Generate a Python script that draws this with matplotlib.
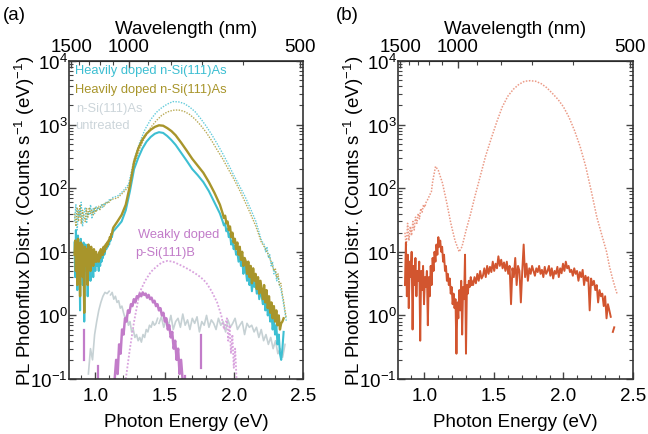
import numpy as np
import matplotlib
matplotlib.use('Agg')
import matplotlib.pyplot as plt
from matplotlib.ticker import LogLocator, MultipleLocator, FixedLocator, NullFormatter

plt.rcParams['font.family'] = ['Liberation Sans', 'DejaVu Sans']
plt.rcParams['mathtext.fontset'] = 'custom'
plt.rcParams['mathtext.rm'] = 'Liberation Sans'
plt.rcParams['mathtext.it'] = 'Liberation Sans:italic'

nan = np.nan
FS = 13.5

# ---------------- panel (a) ----------------
# heavily doped n-Si(111)As, solid (cyan) and dotted (cyan)
cyan_lo = [14, 4, 22, 9, 2.5, 18, 7, 12, 1.2, 16, 6, 11, 3, 14, 0.8, 9, 13, 5, 10, 2, 12, 7, 9, 3.5,
           11, 6, 8, 4, 10, 7, 5, 9, 6, 8, 7, 5, 9, 6, 10, 7, 9, 8, 11, 9, 10, 12, 11, 13, 12, 14,
           13, 16, 15, 18, 17, 20, 21]
smooth_e = [1.16, 1.19, 1.22, 1.25, 1.28, 1.31, 1.34, 1.37, 1.40, 1.43, 1.46, 1.49, 1.52, 1.55,
            1.58, 1.62, 1.66, 1.70, 1.74, 1.78, 1.82, 1.86, 1.90]
cyan_mid = [25, 30, 45, 90, 200, 300, 420, 540, 640, 720, 760, 740, 660, 570, 480, 360, 270, 200,
            160, 125, 90, 60, 40]
cyan_hi = [30, 26, 28, 21, 23, 17, 19, 13, 15, 11, 12.5, 9, 10, 7, 9.5, 6, 7.5, 4.5, 6, 5, 3.5, 5.5,
           3, 4.2, 2.4, 4, 2.8, 3.2, 2.2, 3, 1.8, 2.6, 2, 1.5, 2.3, 1.2, 1.9, 1.0, 1.4, 0.8, 1.1,
           0.6, 0.9, 0.5, 0.7, 0.35, 0.5, 0.25, 0.2, 0.3, 0.55]

olive_lo = [9, 15, 5, 12, 3, 16, 8, 11, 2, 14, 7, 13, 4, 10, 1.1, 12, 9, 6, 11, 3, 13, 8, 10, 5, 12,
            7, 9, 6, 11, 8, 7, 10, 7, 9, 8, 7, 10, 8, 11, 9, 10, 9, 12, 10, 11, 13, 12, 14, 13, 15,
            15, 17, 16, 19, 19, 22, 24]
olive_mid = [30, 38, 55, 110, 260, 420, 580, 720, 830, 920, 975, 960, 880, 790, 680, 520, 390, 290,
             225, 175, 125, 85, 55]
olive_hi = [40, 34, 37, 28, 30, 22, 25, 17, 20, 14, 16, 11, 14, 9, 12, 7.5, 10, 6, 8, 7, 4.5, 7, 4,
            6, 3.2, 5.5, 3.5, 4.5, 2.6, 4, 2.2, 3.5, 2.5, 1.8, 3, 1.6, 2.5, 1.3, 2, 1.1, 1.6, 0.9,
            1.4, 0.8, 1.2, 0.7, 1.0, 0.6, 0.75, 0.8, 0.9]

dot_lo_cyan = [30, 55, 22, 45, 35, 60, 25, 40, 50, 28, 42, 38, 55, 33, 48, 40, 52, 45, 50, 47, 55,
               50, 58, 55, 62, 60, 66, 64, 70, 72]
dot_lo_olive = [40, 25, 50, 30, 55, 28, 45, 36, 30, 48, 35, 50, 40, 45, 38, 50, 42, 48, 52, 46, 53,
                55, 52, 58, 57, 62, 60, 65, 66, 68]
dot_e = [1.16, 1.20, 1.24, 1.28, 1.32, 1.36, 1.40, 1.44, 1.48, 1.52, 1.56, 1.60, 1.64, 1.68, 1.72,
         1.76, 1.80, 1.84, 1.88, 1.92, 1.96, 2.00, 2.04, 2.08, 2.12, 2.16, 2.20]
dot_cyan = [75, 90, 115, 280, 520, 850, 1200, 1550, 1850, 2100, 2300, 2280, 2150, 1900, 1600, 1250,
            950, 700, 500, 350, 240, 160, 110, 75, 48, 30, 15]
dot_olive = [70, 85, 105, 230, 420, 650, 900, 1150, 1400, 1580, 1680, 1700, 1620, 1450, 1220, 980,
             760, 560, 400, 290, 200, 140, 95, 62, 40, 25, 14]
dot_tail_cyan = [13, 10, 12, 8, 9, 6, 7, 4.5, 5, 3.5, 4, 3, 2.6, 2, 1.5, 1.1, 0.8]
dot_tail_olive = [12, 11, 10, 9, 8, 7, 6, 5, 5.5, 4, 4.5, 3, 3.2, 2.2, 1.7, 1.2, 0.9]

# untreated n-Si(111)As (gray)
gray_lo = [0.12, 0.3, 0.2, 0.5, 0.8, 1.2, 1.6, 2.0, 2.3, 2.2, 2.4]
gray_dec = [2.1, 2.3, 1.8, 2.0, 1.6, 1.7, 1.3, 1.4, 1.1, 0.9, 1.0, 0.7, 0.8, 0.55, 0.6, 0.45, 0.5,
            0.4, 0.45, 0.38, 0.5, 0.45, 0.6, 0.55, 0.7, 0.65, 0.8, 0.7, 0.75, 0.9]
gray_flat = [0.75, 0.95, 0.65, 0.85, 0.7, 1.0, 0.6, 0.8, 0.9, 0.65, 1.05, 0.7, 0.85, 0.6, 0.9, 0.75,
             0.95, 0.55, 0.8, 0.7, 1.0, 0.65, 0.85, 0.75, 0.6, 0.9, 0.7, 0.8, 0.55, 0.85, 0.65, 0.75,
             0.9, 0.6, 0.7, 0.8, 0.5, 0.75, 0.65, 0.7, 0.55, 0.65, 0.45, 0.6, 0.4, 0.5, 0.35, 0.45,
             0.3, 0.4, 0.25, 0.3, 0.22, 0.35]

# weakly doped p-Si(111)B (purple)
purple_main = [0.1, 0.2, 0.12, 0.35, 0.25, 0.6, 0.5, 0.9, 0.8, 1.2, 1.1, 1.5, 1.4, 1.8, 1.6, 2.0, 1.9,
               2.2, 2.0, 2.3, 2.1, 2.2, 1.9, 2.1, 1.8, 1.9, 1.6, 1.7, 1.4, 1.5, 1.2, 1.3, 1.0, 1.1,
               0.8, 0.9, 0.6, 0.7, 0.45, 0.55, 0.3, 0.4, 0.2, 0.3, 0.12, 0.2, 0.1]
purple_spike_e = [0.92, 0.92, nan, 1.02, 1.02, nan, 1.65, 1.65, nan, 1.76, 1.76]
purple_spike_v = [0.2, 0.6, nan, 0.08, 0.16, nan, 0.08, 0.11, nan, 0.15, 0.5]
purple_dot_e = [1.22, 1.25, 1.28, 1.32, 1.36, 1.40, 1.44, 1.48, 1.52, 1.56, 1.60, 1.64, 1.68, 1.72,
                1.76, 1.80, 1.84, 1.88, 1.91, 1.93, 1.95, 1.96, 1.97, 1.98, 1.99, 2.00, 2.01, 2.02]
purple_dot = [0.1, 0.3, 0.8, 2.3, 3.5, 4.8, 5.8, 6.8, 7.2, 7.0, 6.4, 5.8, 5.2, 4.6, 4.0, 3.3, 2.4,
              1.6, 1.0, 0.6, 0.9, 0.4, 0.7, 0.25, 0.5, 0.15, 0.3, 0.1]

# ---------------- panel (b) ----------------
orange_lo = [3, 14, 2, 9, 1.3, 7, 4, 10, 0.6, 6, 3, 8, 2, 5, 3.5, 7, 0.4, 5, 2.5, 6, 1.5, 4, 2.8, 5,
             0.7, 4, 2, 6, 3, 8, 5, 10, 7, 13, 9, 17, 12, 15, 10, 12, 7, 9, 5, 6, 3.5, 4.5, 3, 3.8,
             2.2, 2.8, 1.5, 2.2, 1.3, 1.8, 0.25, 1.6, 0.9, 2.5, 1.2, 3.5, 0.5, 2.8, 1.8, 9, 0.25,
             3, 2.2, 3.5, 2.8, 4, 3]
orange_hi = [3.5, 3, 4, 3.2, 4.5, 3.5, 5, 3.8, 4.2, 5.5, 4, 6, 4.5, 5.8, 4.8, 7, 5, 6.5, 5.5, 8.5, 6,
             7.5, 5.5, 6.8, 5, 7, 4.5, 6, 1.5, 5.5, 4, 8, 3, 6, 5, 1.6, 5, 13, 4, 6.5, 3.5, 5.5,
             4.5, 6, 5, 4.2, 5.5, 4.8, 6, 4.5, 5.2, 4, 5.8, 4.5, 5, 6, 4.2, 5.5, 3.8, 5, 4.5, 5.8,
             4, 5.5, 4.6, 6.5, 5, 7, 5.5, 6, 4.8, 5.2, 4.2, 5.5, 4.5, 5, 3.5, 4.8, 4, 5.2, 3, 4.2,
             3.5, 4, 1.2, 3.8, 3, 3.5, 2.5, 3, 1.6, 2.5, 2, 2.2, 1.4, 2, 0.9, 1.5, 1.2, 0.95]
orange_end_e = [2.355, 2.365]
orange_end_v = [0.55, 0.65]

orange_dot_lo = [20, 12, 28, 15, 25, 18, 30, 22, 35, 28, 40, 33, 48, 42, 55, 50, 60, 65, 72, 80, 88]
orange_dot_e = [1.06, 1.08, 1.10, 1.13, 1.16, 1.19, 1.22, 1.25, 1.27, 1.30, 1.33, 1.36, 1.40, 1.44,
                1.48, 1.52, 1.56, 1.60, 1.64, 1.68, 1.72, 1.76, 1.80, 1.84, 1.88, 1.92, 1.96, 2.00,
                2.04, 2.08, 2.12, 2.16, 2.20, 2.24, 2.28, 2.31, 2.33, 2.35, 2.37, 2.385]
orange_dot = [130, 220, 190, 120, 60, 28, 15, 10, 12, 22, 38, 70, 150, 320, 600, 1100, 1900, 2800,
              3600, 4300, 4800, 4900, 4800, 4400, 3800, 3100, 2500, 1900, 1300, 800, 450, 220, 90,
              35, 17, 10, 6, 4, 2.8, 2.2]

CYAN = '#3dbfd2'
OLIVE = '#a8952b'
GRAY = '#c6d1d4'
PURPLE = '#c27cc9'
PURPLE_L = '#d9a3de'
ORANGE = '#d2552f'
ORANGE_L = '#eb9a86'
DOT = (0, (1, 1))


def grid(e0, e1, vals):
    return np.linspace(e0, e1, len(vals))


def ev_to_nm(e):
    e = np.asarray(e, dtype=float)
    return 1239.84 / np.where(e == 0, 1e-9, e)


def style_axes(ax):
    ax.set_yscale('log')
    ax.set_xlim(0.81, 2.5)
    ax.set_ylim(0.1, 1e4)
    ax.set_facecolor('white')
    ax.xaxis.set_major_locator(FixedLocator([1.0, 1.5, 2.0, 2.5]))
    ax.xaxis.set_minor_locator(MultipleLocator(0.1))
    ax.xaxis.set_major_formatter(plt.FuncFormatter(lambda v, p: f'{v:.1f}'))
    ax.yaxis.set_major_locator(LogLocator(base=10, numticks=10))
    ax.yaxis.set_minor_locator(LogLocator(base=10, subs=np.arange(2, 10), numticks=10))
    ax.yaxis.set_minor_formatter(NullFormatter())
    ax.tick_params(which='both', direction='in', top=False, right=True, labelsize=FS,
                   color='#444444')
    ax.tick_params(which='major', length=5, width=1)
    ax.tick_params(which='minor', length=3, width=0.8)
    ax.tick_params(axis='x', pad=6)
    ax.tick_params(axis='y', pad=1)
    for s in ax.spines.values():
        s.set_linewidth(1.2)
        s.set_color('#333333')
    ax.set_xlabel('Photon Energy (eV)', fontsize=FS, labelpad=6)
    ax.set_ylabel('PL Photonflux Distr. (Counts s$^{-1}$ (eV)$^{-1}$)', fontsize=FS,
                  labelpad=-5)
    sec = ax.secondary_xaxis('top', functions=(ev_to_nm, ev_to_nm))
    sec.xaxis.set_major_locator(FixedLocator([1500, 1000, 500]))
    sec.xaxis.set_minor_locator(FixedLocator(list(range(500, 1600, 100))))
    sec.tick_params(which='both', direction='in', labelsize=FS, color='#444444', pad=4)
    sec.tick_params(which='major', length=5, width=1)
    sec.tick_params(which='minor', length=3, width=0.8)
    sec.set_xlabel('Wavelength (nm)', fontsize=FS, labelpad=4)


fig = plt.figure(figsize=(6.48, 4.35), dpi=100)
fig.patch.set_facecolor('white')
ax_a = fig.add_axes([69 / 648, 55 / 435, 234 / 648, 318 / 435])
ax_b = fig.add_axes([398 / 648, 55 / 435, 235 / 648, 318 / 435])

# --- (a) ---
ax_a.plot(grid(0.95, 1.10, gray_lo), gray_lo, color=GRAY, lw=1.2)
ax_a.plot(grid(1.11, 1.45, gray_dec), gray_dec, color=GRAY, lw=1.2)
ax_a.plot(grid(1.46, 2.37, gray_flat), gray_flat, color=GRAY, lw=1.2)

for lo, mid, tail, col in [(dot_lo_cyan, dot_cyan, dot_tail_cyan, CYAN),
                           (dot_lo_olive, dot_olive, dot_tail_olive, OLIVE)]:
    e = np.concatenate([grid(0.85, 1.13, lo), dot_e, grid(2.22, 2.38, tail)])
    v = np.concatenate([lo, mid, tail])
    ax_a.plot(e, v, color=col, lw=1.0, ls=DOT, alpha=0.8)

ax_a.plot(purple_dot_e, purple_dot, color=PURPLE_L, lw=1.3, ls=DOT)

for lo, mid, hi, col, lw in [(cyan_lo, cyan_mid, cyan_hi, CYAN, 1.5),
                             (olive_lo, olive_mid, olive_hi, OLIVE, 1.7)]:
    e = np.concatenate([grid(0.85, 1.13, lo), smooth_e, grid(1.92, 2.36, hi)])
    v = np.concatenate([lo, mid, hi])
    ax_a.plot(e, v, color=col, lw=lw)

ax_a.plot(grid(1.14, 1.63, purple_main), purple_main, color=PURPLE, lw=1.8)
ax_a.plot(purple_spike_e, purple_spike_v, color=PURPLE, lw=1.6)

label_kw = dict(fontsize=9.3, va='center', ha='left')
ax_a.text(0.855, 7200, 'Heavily doped n-Si(111)As', color=CYAN, **label_kw)
ax_a.text(0.855, 3650, 'Heavily doped n-Si(111)As', color=OLIVE, **label_kw)
ax_a.text(0.865, 1830, 'n-Si(111)As', color='#ccd5da', **label_kw)
ax_a.text(0.855, 975, 'untreated', color='#ccd5da', **label_kw)
ax_a.text(1.31, 19, 'Weakly doped', color=PURPLE, **label_kw)
ax_a.text(1.29, 10, 'p-Si(111)B', color=PURPLE, **label_kw)

# --- (b) ---
e = np.concatenate([grid(0.86, 1.05, orange_dot_lo), orange_dot_e])
v = np.concatenate([orange_dot_lo, orange_dot])
ax_b.plot(e, v, color=ORANGE_L, lw=1.1, ls=DOT)
ax_b.plot(grid(0.86, 1.34, orange_lo), orange_lo, color=ORANGE, lw=1.4)
ax_b.plot(grid(1.34, 2.34, orange_hi), orange_hi, color=ORANGE, lw=1.4)
ax_b.plot(orange_end_e, orange_end_v, color=ORANGE, lw=1.4)

for ax in (ax_a, ax_b):
    style_axes(ax)

fig.text(3 / 648, 1 - 15 / 435, '(a)', fontsize=FS, va='center', ha='left')
fig.text(336 / 648, 1 - 15 / 435, '(b)', fontsize=FS, va='center', ha='left')

fig.savefig('out.png', dpi=100, facecolor='white')
